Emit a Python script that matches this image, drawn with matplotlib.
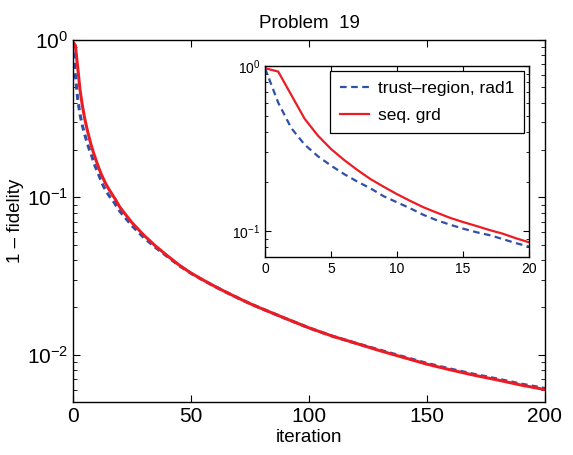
import numpy as np
import matplotlib
matplotlib.use("Agg")
import matplotlib.pyplot as plt
from matplotlib.ticker import LogLocator, NullFormatter, FixedLocator

plt.rcParams['font.family'] = ['Liberation Sans', 'DejaVu Sans']
plt.rcParams['mathtext.fontset'] = 'custom'
plt.rcParams['mathtext.rm'] = 'Liberation Sans'
plt.rcParams['mathtext.it'] = 'Liberation Sans:italic'
plt.rcParams['mathtext.bf'] = 'Liberation Sans:bold'

# iterations
iters = [0, 1, 2, 3, 4, 5, 6, 7, 8, 9, 10, 11, 12, 13, 14, 15, 16, 17, 18, 19, 20,
         25, 30, 35, 40, 45, 50, 55, 60, 65, 70, 75, 80, 90, 100, 110, 120, 130,
         140, 150, 160, 170, 180, 190, 200]

trust_rad1 = [0.97, 0.60, 0.42, 0.335, 0.285, 0.25, 0.222, 0.20, 0.182, 0.163,
              0.15, 0.138, 0.126, 0.117, 0.11, 0.104, 0.099, 0.095, 0.09, 0.085,
              0.081, 0.066, 0.0555, 0.048, 0.042, 0.0368, 0.0329, 0.0298, 0.0272,
              0.0249, 0.0229, 0.0211, 0.0196, 0.017, 0.0148, 0.0131, 0.0118, 0.0107,
              0.0097, 0.0088, 0.0081, 0.0075, 0.0070, 0.0065, 0.0061]

seq_grd = [0.97, 0.925, 0.666, 0.48, 0.38, 0.315, 0.27, 0.235, 0.207, 0.186, 0.168,
           0.153, 0.14, 0.13, 0.121, 0.114, 0.108, 0.102, 0.097, 0.091, 0.086,
           0.069, 0.0575, 0.049, 0.0425, 0.0371, 0.033, 0.0299, 0.0272, 0.0249,
           0.0229, 0.0211, 0.0196, 0.017, 0.0148, 0.0131, 0.0118, 0.0106, 0.0096,
           0.0087, 0.0080, 0.0074, 0.0069, 0.0064, 0.0060]

blue = '#3050a8'
red = '#ec1c24'

fig = plt.figure(figsize=(5.73, 4.55), dpi=100)

# main axes
ax = fig.add_axes([0.1274, 0.1165, 0.8236, 0.7955])
ax.semilogy(iters, trust_rad1, color=blue, lw=2.2, dashes=(2, 1.4))
ax.semilogy(iters, seq_grd, color=red, lw=2.2)
ax.set_xlim(0, 200)
ax.set_ylim(0.005, 1)
ax.set_xticks([0, 50, 100, 150, 200])
ax.yaxis.set_major_locator(FixedLocator([1e-2, 1e-1, 1e0]))
ax.yaxis.set_minor_locator(LogLocator(base=10, subs=np.arange(2, 10)))
ax.yaxis.set_minor_formatter(NullFormatter())
ax.tick_params(which='both', direction='in', top=True, right=True, labelsize=15)
ax.tick_params(which='major', length=5, width=0.8)
ax.tick_params(which='minor', length=3, width=0.6)
ax.set_xlabel('iteration', fontsize=13.5, labelpad=2)
ax.set_ylabel('1 \u2013 fidelity', fontsize=13.5)
ax.yaxis.set_label_coords(-0.104, 0.5)
ax.set_title('Problem  19', fontsize=13.5, pad=9)
for s in ax.spines.values():
    s.set_linewidth(1.0)

# inset axes
n = 21
ins = fig.add_axes([0.4625, 0.435, 0.4607, 0.42])
ins.semilogy(iters[:n], trust_rad1[:n], color=blue, lw=1.6, dashes=(3, 2),
             label='trust\u2013region, rad1')
ins.semilogy(iters[:n], seq_grd[:n], color=red, lw=1.6, label='seq. grd')
ins.set_xlim(0, 20)
ins.set_ylim(0.07, 1.0)
ins.set_xticks([0, 5, 10, 15, 20])
ins.yaxis.set_major_locator(FixedLocator([1e-1, 1e0]))
ins.yaxis.set_minor_locator(LogLocator(base=10, subs=np.arange(2, 10)))
ins.yaxis.set_minor_formatter(NullFormatter())
ins.tick_params(which='both', direction='in', top=True, right=True, labelsize=10)
ins.tick_params(which='major', length=4, width=0.8)
ins.tick_params(which='minor', length=2.5, width=0.6)
for s in ins.spines.values():
    s.set_linewidth(1.0)
leg = ins.legend(loc='upper right', fontsize=12.5, frameon=True, fancybox=False,
                 edgecolor='black', framealpha=1, handlelength=1.7,
                 borderaxespad=0.3, borderpad=0.55, labelspacing=0.7,
                 handletextpad=0.5)
leg.get_frame().set_linewidth(0.9)

fig.savefig('out.png', dpi=100)
